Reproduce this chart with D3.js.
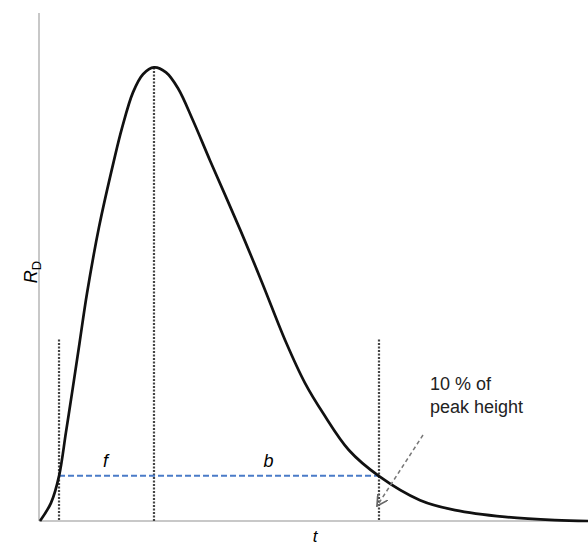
<!DOCTYPE html>
<html>
<head>
<meta charset="utf-8">
<script src="https://cdn.jsdelivr.net/npm/d3@7"></script>
<style>
  body { margin: 0; background: #fff; }
  text { font-family: "Liberation Sans", Arial, sans-serif; }
</style>
</head>
<body>
<div id="chart"></div>
<script>
// curve (t in arbitrary units, R as fraction of peak)
const tValues = [0, 2.01, 3.47, 4.74, 5.93, 7.21, 8.58, 10.77, 13.50, 14.96, 16.97, 18.80, 20.80,
    22.99, 25.18, 27.92, 31.02, 36.50, 40.51, 44.89, 48.36, 51.64, 56.39, 61.86, 69.34, 75.73, 84.85, 93.98, 100];
const rValues = [0, 0.040, 0.099, 0.196, 0.289, 0.392, 0.502, 0.648, 0.795, 0.866, 0.945, 0.985, 1.0,
    0.989, 0.954, 0.883, 0.795, 0.643, 0.526, 0.394, 0.304, 0.238, 0.156, 0.099, 0.046, 0.024, 0.009, 0.002, 0];

const tFront = 3.47, tPeak = 20.8, tBack = 61.86;
const tenPct = 0.1;
const markerTop = 0.40;

const width = 588, height = 547;
const margin = {left: 39, right: 0, top: 13, bottom: 26};

const svg = d3.select("#chart").append("svg")
    .attr("width", width)
    .attr("height", height);

const x = d3.scaleLinear().domain([0, 100]).range([margin.left + 1, width]);
const y = d3.scaleLinear().domain([0, 1.12]).range([height - margin.bottom, margin.top]);

const pts = tValues.map((t, i) => [t, rValues[i]]);

// axes (plain lines, no ticks)
svg.append("line")
    .attr("x1", margin.left).attr("x2", margin.left)
    .attr("y1", margin.top).attr("y2", y(0))
    .attr("stroke", "#c8c8c8").attr("stroke-width", 2);
svg.append("line")
    .attr("x1", margin.left).attr("x2", width)
    .attr("y1", y(0)).attr("y2", y(0))
    .attr("stroke", "#c8c8c8").attr("stroke-width", 2);

// vertical dotted markers
const vlines = [
    {t: tFront, top: markerTop},
    {t: tPeak, top: 1.0},
    {t: tBack, top: markerTop}
];
svg.append("g")
    .selectAll("line")
    .data(vlines)
    .join("line")
    .attr("x1", d => x(d.t)).attr("x2", d => x(d.t))
    .attr("y1", d => y(d.top)).attr("y2", y(0))
    .attr("stroke", "#444")
    .attr("stroke-width", 2.2)
    .attr("stroke-dasharray", "2,1.5");

// 10% line
svg.append("line")
    .attr("x1", x(tFront)).attr("x2", x(tBack))
    .attr("y1", y(tenPct)).attr("y2", y(tenPct))
    .attr("stroke", "#4a7bc8")
    .attr("stroke-width", 2)
    .attr("stroke-dasharray", "6,3");

// the peak curve
const line = d3.line()
    .x(d => x(d[0]))
    .y(d => y(d[1]))
    .curve(d3.curveCatmullRom.alpha(0.5));

svg.append("path")
    .datum(pts)
    .attr("d", line)
    .attr("fill", "none")
    .attr("stroke", "#111")
    .attr("stroke-width", 2.7);

// labels f and b
svg.append("text")
    .attr("x", (x(tFront) + x(tPeak)) / 2 - 1)
    .attr("y", y(tenPct) - 9)
    .attr("text-anchor", "middle")
    .style("font-style", "italic")
    .style("font-size", "18px")
    .text("f");
svg.append("text")
    .attr("x", (x(tPeak) + x(tBack)) / 2 + 2)
    .attr("y", y(tenPct) - 9)
    .attr("text-anchor", "middle")
    .style("font-style", "italic")
    .style("font-size", "18px")
    .text("b");

// annotation
const note = svg.append("text")
    .attr("x", 430)
    .attr("y", 390)
    .style("font-size", "18px")
    .attr("fill", "#222");
note.append("tspan").attr("x", 430).text("10 % of");
note.append("tspan").attr("x", 430).attr("dy", 23).text("peak height");

svg.append("defs").append("marker")
    .attr("id", "arr")
    .attr("viewBox", "0 0 10 10")
    .attr("refX", 9).attr("refY", 5)
    .attr("markerWidth", 8).attr("markerHeight", 8)
    .attr("orient", "auto")
    .append("path")
    .attr("d", "M0,0 L9,5 L0,10")
    .attr("fill", "none")
    .attr("stroke", "#666")
    .attr("stroke-width", 1.4);

svg.append("line")
    .attr("x1", 423).attr("y1", 435)
    .attr("x2", 377).attr("y2", 506)
    .attr("stroke", "#777")
    .attr("stroke-width", 1.5)
    .attr("stroke-dasharray", "4,3")
    .attr("marker-end", "url(#arr)");

// axis titles
const yl = svg.append("text")
    .attr("transform", "translate(37,272) rotate(-90)")
    .attr("text-anchor", "middle")
    .style("font-size", "18px");
yl.append("tspan").style("font-style", "italic").text("R");
yl.append("tspan").attr("dy", 4).style("font-size", "13px").text("D");

svg.append("text")
    .attr("x", 315)
    .attr("y", 542)
    .attr("text-anchor", "middle")
    .style("font-style", "italic")
    .style("font-size", "17px")
    .text("t");
</script>
</body>
</html>
